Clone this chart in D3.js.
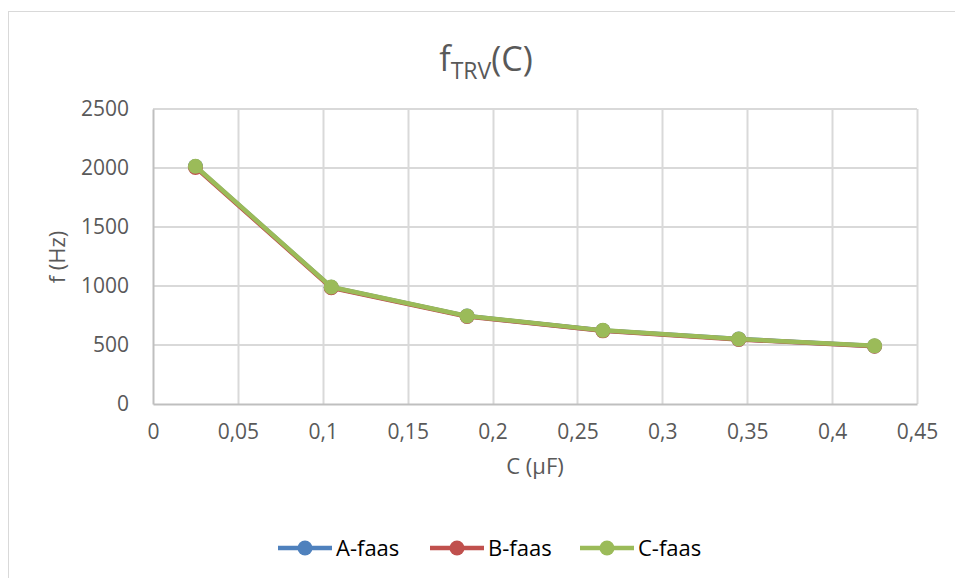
<!DOCTYPE html>
<html><head><meta charset="utf-8">
<script src="https://cdn.jsdelivr.net/npm/d3@7"></script>
<style>
html,body{margin:0;padding:0;background:#fff;}
text{font-family:"Open Sans",sans-serif;fill:#595959;}
</style></head>
<body>
<svg id="chart" width="955" height="578"></svg>
<script>
const capacitance = [0.025, 0.105, 0.185, 0.265, 0.345, 0.425];
const seriesNames = ["A-faas", "B-faas", "C-faas"];
const seriesColors = ["#4F81BD", "#C0504D", "#9BBB59"];
const aPhase = [2012, 990, 745, 622, 550, 492];
const bPhase = [2005, 985, 742, 620, 547, 490];
const cPhase = [2015, 992, 746, 624, 551, 493];
const xTicks = [0, 0.05, 0.1, 0.15, 0.2, 0.25, 0.3, 0.35, 0.4, 0.45];
const yTicks = [0, 500, 1000, 1500, 2000, 2500];

const series = [aPhase, bPhase, cPhase].map((v, i) => ({name: seriesNames[i], color: seriesColors[i], values: v}));

const svg = d3.select("#chart");
svg.append("rect").attr("x", 8.5).attr("y", 11.5).attr("width", 960).attr("height", 600)
  .attr("fill", "#fff").attr("stroke", "#d9d9d9").attr("stroke-width", 1);

const L = 153, R = 917, T = 109, B = 404;
const x = d3.scaleLinear().domain([0, 0.45]).range([L, R]);
const y = d3.scaleLinear().domain([0, 2500]).range([B, T]);
const fmt = d => String(+d.toFixed(2)).replace(".", ",");

const g = svg.append("g");
g.selectAll("line.vg").data(xTicks.slice(1)).join("line")
  .attr("x1", d => Math.round(x(d)) + 0.5).attr("x2", d => Math.round(x(d)) + 0.5)
  .attr("y1", T).attr("y2", B).attr("stroke", "#d9d9d9").attr("stroke-width", 2);
g.selectAll("line.hg").data(yTicks.slice(1)).join("line")
  .attr("y1", d => Math.round(y(d))).attr("y2", d => Math.round(y(d)))
  .attr("x1", L).attr("x2", R).attr("stroke", "#d9d9d9").attr("stroke-width", 2);

const yAxis = d3.axisLeft(y).tickValues(yTicks).tickSize(0).tickPadding(24).tickFormat(d => d);
const xAxis = d3.axisBottom(x).tickValues(xTicks).tickSize(0).tickPadding(20).tickFormat(fmt);
const ya = svg.append("g").attr("transform", `translate(${L},0)`).call(yAxis);
const xa = svg.append("g").attr("transform", `translate(0,${B})`).call(xAxis);
[ya, xa].forEach(a => {
  a.select(".domain").attr("stroke", "#bfbfbf").attr("stroke-width", 2);
  a.selectAll("text").style("font-size", "21px").attr("fill", "#595959");
});

const line = d3.line().x((d, i) => x(capacitance[i])).y(d => y(d));
series.forEach(s => {
  svg.append("path").datum(s.values).attr("d", line).attr("fill", "none")
    .attr("stroke", s.color).attr("stroke-width", 4.5).attr("stroke-linejoin", "round");
  svg.selectAll(null).data(s.values).join("circle")
    .attr("cx", (d, i) => x(capacitance[i])).attr("cy", d => y(d)).attr("r", 7.5)
    .attr("fill", s.color);
});

const title = svg.append("text").attr("x", 486).attr("y", 71).attr("text-anchor", "middle")
  .style("font-size", "34px");
title.append("tspan").text("f");
title.append("tspan").attr("dy", 8).style("font-size", "23px").text("TRV");
title.append("tspan").attr("dy", -8).text("(C)");

svg.append("text").attr("transform", "translate(65,257) rotate(-90)").attr("text-anchor", "middle")
  .style("font-size", "22px").text("f (Hz)");
svg.append("text").attr("x", 535).attr("y", 474).attr("text-anchor", "middle")
  .style("font-size", "22px").text("C (µF)");

const legX = [278, 430, 580];
const lg = svg.append("g");
series.forEach((s, i) => {
  const gx = legX[i], gy = 548;
  lg.append("line").attr("x1", gx).attr("x2", gx + 54).attr("y1", gy).attr("y2", gy)
    .attr("stroke", s.color).attr("stroke-width", 4.5);
  lg.append("circle").attr("cx", gx + 27).attr("cy", gy).attr("r", 7.5).attr("fill", s.color);
  lg.append("text").attr("x", gx + 58).attr("y", gy + 8).style("font-size", "22px")
    .style("fill", "#000").text(s.name);
});
</script>
</body></html>
